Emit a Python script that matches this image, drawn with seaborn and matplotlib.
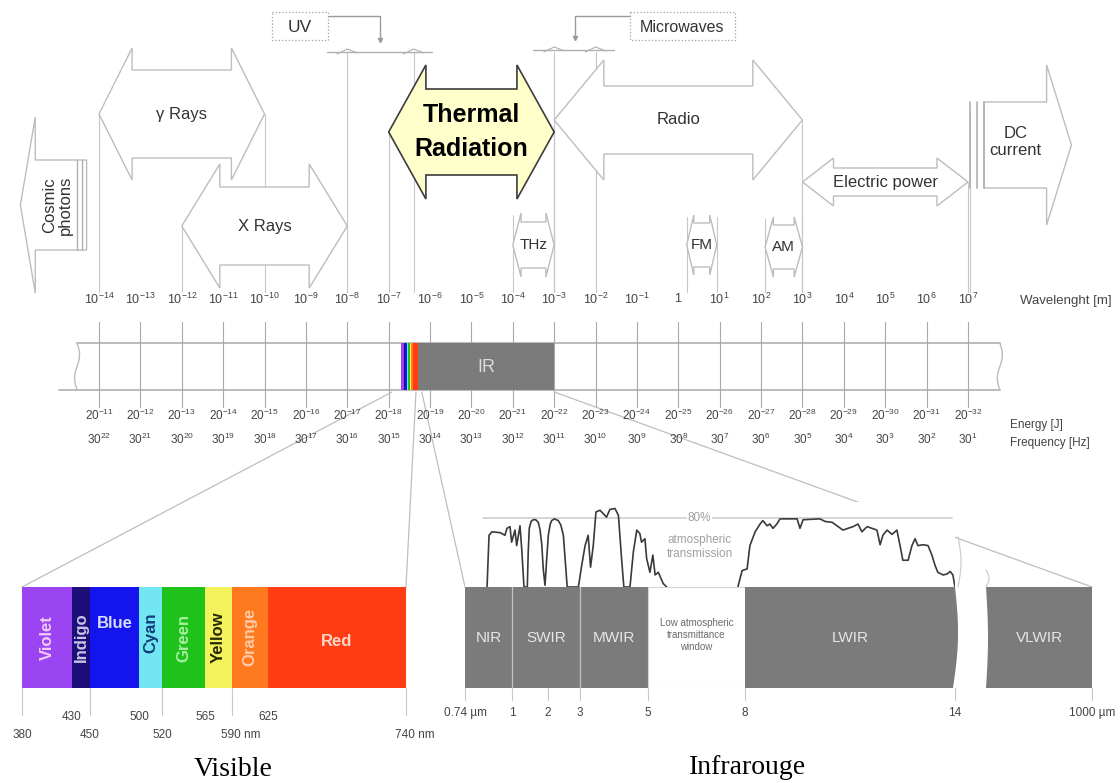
import numpy as np
import pandas as pd
import matplotlib
matplotlib.use("Agg")
import matplotlib.pyplot as plt
import seaborn as sns
from matplotlib.patches import Polygon, Rectangle, ConnectionPatch

# ---------------- data ----------------
# wavelength decades on the main scale (metres), energy (J) and frequency (Hz) exponents
wl_exp = list(range(-14, 8))
energy_exp = list(range(-11, -33, -1))
freq_exp = list(range(22, 0, -1))

# regions of the spectrum (metres)
band_names = ['γ Rays', 'X Rays', 'Radio', 'Thermal\nRadiation', 'Electric power', 'THz', 'FM', 'AM']
band_lo = [1e-14, 1e-12, 1e-3, 1e-7, 1e3, 1e-4, 1.6, 125]
band_hi = [1e-10, 1e-8, 1e3, 1e-3, 1e7, 1e-3, 8.5, 1000]
cosmic_range = (10 ** -15.9, 10 ** -14.3)
dc_range = (10 ** 7.05, 10 ** 9.5)
uv_range = (1e-8, 4e-7)
micro_range = (1e-3, 1e-2)

# visible detail (nm)
vis_names = ['Violet', 'Indigo', 'Blue', 'Cyan', 'Green', 'Yellow', 'Orange', 'Red']
vis_edges = [380, 430, 450, 500, 520, 565, 590, 625, 740]
vis_ticks_top = [430, 500, 565, 625]
vis_ticks_bottom = [380, 450, 520, 590, 740]
vis_tick_labels_bottom = ['380', '450', '520', '590 nm', '740 nm']

# infrared detail (um)
ir_names = ['NIR', 'SWIR', 'MWIR', 'Low atmospheric\ntransmittance\nwindow', 'LWIR', 'VLWIR']
ir_edges = [0.74, 1, 3, 5, 8, 14, 1000]
ir_ticks = [0.74, 1, 2, 3, 5, 8, 14, 1000]
ir_tick_labels = ['0.74 µm', '1', '2', '3', '5', '8', '14', '1000 µm']

# atmospheric transmission (%)
atm1_um = [0.862, 0.873, 0.889, 0.934, 0.961, 0.972, 0.989, 0.998, 1.083, 1.13, 1.222, 1.27, 1.333,
           1.425, 1.45, 1.48, 1.53, 1.59, 1.66, 1.73, 1.78, 1.825, 1.87, 1.917,
           1.96, 2.01, 2.07, 2.115, 2.2, 2.32, 2.4, 2.48, 2.54, 2.6,
           2.95, 3.05, 3.15, 3.24, 3.31, 3.39, 3.47, 3.59, 3.78, 3.88, 4.03, 4.13, 4.23, 4.29,
           4.47, 4.57, 4.67, 4.76, 4.81, 4.91, 4.96, 5.06, 5.15, 5.22, 5.32, 5.47, 5.58]
atm1_pct = [0, 60, 64, 63, 60, 68, 70, 52, 66, 48, 71, 44, 0,
            0, 40, 68, 76, 78, 78, 75, 66, 50, 20, 2,
            30, 60, 73, 77, 79, 77, 72, 60, 30, 0,
            0, 25, 48, 60, 23, 48, 87, 89, 81, 90, 91, 83, 29, 0,
            0, 41, 66, 62, 52, 56, 33, 17, 37, 14, 17, 4, 0]
atm2_um = [7.78, 7.91, 8.06, 8.14, 8.29, 8.43, 8.51, 8.63, 8.71, 8.8, 8.91, 9.0, 9.49, 9.57, 9.66,
           10.14, 10.29, 10.49, 10.66, 10.8, 10.94, 11.09, 11.23, 11.34, 11.49, 11.63, 11.77, 11.86,
           11.94, 12.06, 12.2, 12.34, 12.43, 12.51, 12.66, 12.77, 12.86, 12.94, 13.09, 13.23, 13.34,
           13.43, 13.51, 13.66, 13.77, 13.86, 13.94, 14.0]
atm2_pct = [0, 19, 21, 48, 64, 73, 77, 71, 73, 68, 73, 79, 79, 68, 78,
            79, 76, 75, 70, 66, 68, 70, 73, 64, 70, 68, 66, 49,
            60, 66, 61, 66, 48, 31, 31, 48, 56, 48, 49, 48, 37,
            25, 17, 14, 15, 18, 14, 0]

# ---------------- layout / style ----------------
W, H = 1120, 783
PX_DEC = 41.38                      # pixels per decade on the main scale
X_LEFT = -14 - 99 / PX_DEC
X_RIGHT = X_LEFT + W / PX_DEC

# y centre, head half-height, shaft half-height, head length (decades)
arrow_layout = {
    'γ Rays': (114, 66, 44, 0.80),
    'X Rays': (226, 62, 39, 0.92),
    'Radio': (120, 60, 34, 1.20),
    'Thermal\nRadiation': (132, 67, 43, 0.90),
    'Electric power': (182, 24, 14, 0.75),
    'THz': (245, 32, 23, 0.20),
    'FM': (245, 30, 22, 0.17),
    'AM': (247, 30, 22, 0.20),
}
BAR_TOP, BAR_BOT = 343, 390
STRIP = (-6.69, -6.28)              # exaggerated visible strip on the main bar (decades)

vis_colors = ['#9B45F2', '#1E0E7A', '#1414EE', '#72E6F2', '#1FC21B', '#F4F25C', '#FF7A1E', '#FF3C12']
vis_text_colors = ['#F2CCF8', '#C9C6E6', '#D6DBFF', '#123C78', '#A6F0A0', '#262600', '#FFCBA8', '#FFD6C8']
vis_rot = [90, 90, 0, 90, 90, 90, 90, 0]
vis_text_y = [0.5, 0.5, 0.64, 0.55, 0.5, 0.5, 0.51, 0.46]
vis_pos = [0, 50, 68, 117, 140, 183, 210, 246, 384]      # not to scale, as drawn
ir_pos = [0, 47, 83, 115, 183, 280, 490, 627]
IR_GRAY = '#7B7B7B'
EDGE = '#BDBDBD'
TXT = '#333333'

sns.set_theme(style='white')
plt.rcParams['font.family'] = ['Liberation Sans', 'DejaVu Sans']
plt.rcParams['mathtext.fontset'] = 'custom'
plt.rcParams['mathtext.rm'] = 'Liberation Sans'
plt.rcParams['mathtext.it'] = 'Liberation Sans:italic'


def vis_fwd(x):
    return np.interp(x, vis_edges, vis_pos)


def vis_inv(x):
    return np.interp(x, vis_pos, vis_edges)


def ir_fwd(x):
    return np.interp(x, ir_ticks, ir_pos)


def ir_inv(x):
    return np.interp(x, ir_pos, ir_ticks)


def arrow_poly(a, b, yc, hh, sh, hl, kind='double'):
    if kind == 'double':
        xs = [a, a + hl, a + hl, b - hl, b - hl, b, b - hl, b - hl, a + hl, a + hl]
        ys = [yc, yc - hh, yc - sh, yc - sh, yc - hh, yc, yc + hh, yc + sh, yc + sh, yc + hh]
    elif kind == 'left':
        xs = [a, a + hl, a + hl, b, b, a + hl, a + hl]
        ys = [yc, yc - hh, yc - sh, yc - sh, yc + sh, yc + sh, yc + hh]
    else:
        xs = [a, b - hl, b - hl, b, b - hl, b - hl, a]
        ys = [yc - sh, yc - sh, yc - hh, yc, yc + hh, yc + sh, yc + sh]
    return np.column_stack([10.0 ** np.array(xs), ys])


fig = plt.figure(figsize=(W / 100, H / 100), dpi=100)

# ---------------- main spectrum ----------------
ax = fig.add_axes([0, 0, 1, 1])
ax.set_xscale('log')
ax.set_xlim(10 ** X_LEFT, 10 ** X_RIGHT)
ax.set_ylim(H, 0)
ax.axis('off')

# guide lines from the arrows down to the scale
guides = []
for name, lo, hi in zip(band_names, band_lo, band_hi):
    yc = arrow_layout[name][0]
    top = yc - arrow_layout[name][1] + 2 if name in ('THz', 'FM', 'AM') else yc
    guides += [(lo, top), (hi, top)]
guides += [(uv_range[0], 52), (uv_range[1], 52), (micro_range[0], 52), (micro_range[1], 52),
           (dc_range[0], 111)]
for x, top in guides:
    ax.plot([x, x], [top, 292], color='#C8C8C8', lw=0.8, zorder=1)

# brackets and call-out boxes for UV and microwaves
for rng, yb, box, lab, fs in [(uv_range, 52, (-9.82, -8.47), 'UV', 12.5),
                              (micro_range, 50, (-1.17, 1.37), 'Microwaves', 11.5)]:
    lo, hi = np.log10(rng)
    ax.plot([10 ** (lo - 0.5), 10 ** (hi + 0.45)], [yb, yb], color='#B0B0B0', lw=1, zorder=1)
    for x in (lo, hi):
        ax.plot([10 ** (x - 0.25), 10 ** x, 10 ** (x + 0.25)], [yb + 2, yb - 3, yb + 1],
                color='#B0B0B0', lw=0.8, zorder=1)
    mid = 10 ** ((lo + hi) / 2)
    bx = box[1] if box[1] < np.log10(mid) else box[0]
    ax.plot([10 ** bx, mid, mid], [16, 16, yb - 12], color='#9A9A9A', lw=1, zorder=1)
    ax.plot([mid], [yb - 12], marker='v', ms=3, color='#9A9A9A', zorder=1)
    ax.add_patch(Rectangle((10 ** box[0], 12), 10 ** box[1] - 10 ** box[0], 28, fc='white',
                           ec='#A0A0A0', lw=0.9, ls=':', zorder=2))
    ax.text(10 ** ((box[0] + box[1]) / 2), 27, lab, ha='center', va='center', fontsize=fs,
            color=TXT, zorder=3)

# band arrows
draw_order = ['γ Rays', 'X Rays', 'Radio', 'Thermal\nRadiation', 'Electric power', 'THz', 'FM', 'AM']
for name in draw_order:
    i = band_names.index(name)
    a, b = np.log10(band_lo[i]), np.log10(band_hi[i])
    yc, hh, sh, hl = arrow_layout[name]
    thermal = name.startswith('Thermal')
    ax.add_patch(Polygon(arrow_poly(a, b, yc, hh, sh, hl), closed=True,
                         fc='#FFFFCC' if thermal else 'white',
                         ec='#3C3C3C' if thermal else EDGE, lw=1.2 if thermal else 1.0, zorder=2))
    small = name in ('THz', 'FM', 'AM')
    ax.text(10 ** ((a + b) / 2), yc, name, ha='center', va='center', zorder=3, color='black' if thermal else TXT,
            fontsize=18 if thermal else (11 if small else 12), fontweight='bold' if thermal else 'normal',
            linespacing=1.55)

# cosmic photons (left arrow, cut shaft)
a, b = np.log10(cosmic_range)
ax.add_patch(Polygon(arrow_poly(a, b, 205, 88, 45, 0.36, 'left'), closed=True, fc='white', ec=EDGE,
                     lw=1.0, zorder=2))
for dx in (-0.22, -0.1):
    ax.plot([10 ** (b + dx)] * 2, [160, 250], color='#B0B0B0', lw=1, zorder=3)
ax.text(10 ** ((a + 0.36 + b) / 2 - 0.08), 205, 'Cosmic\nphotons', rotation=90, ha='center', va='center',
        fontsize=12, color=TXT, linespacing=1.0, zorder=3)

# DC current (right arrow, cut shaft)
a, b = np.log10(dc_range)
ax.add_patch(Polygon(arrow_poly(a + 0.34, b, 145, 80, 43, 0.6, 'right'), closed=True, fc='white', ec=EDGE,
                     lw=1.0, zorder=2))
for dx in (0.0, 0.17, 0.34):
    ax.plot([10 ** (a + dx)] * 2, [102, 188], color='#B0B0B0', lw=1.2, zorder=3)
ax.text(10 ** ((a + 0.34 + b - 0.6) / 2), 142, 'DC\ncurrent', ha='center', va='center', fontsize=12,
        color=TXT, linespacing=1.2, zorder=3)

# spectrum bar
bar_l, bar_r = -14.53, 7.77
ax.plot([10 ** bar_l, 10 ** bar_r], [BAR_TOP, BAR_TOP], color='#BBBBBB', lw=1.4, zorder=1)
ax.plot([10 ** (bar_l - 0.43), 10 ** bar_r], [BAR_BOT, BAR_BOT], color='#BBBBBB', lw=1.4, zorder=1)
t = np.linspace(0, 1, 40)
yy = BAR_TOP + t * (BAR_BOT - BAR_TOP)
for x0 in (bar_l, bar_r):
    ax.plot(10 ** (x0 + 0.06 * np.sin(2 * np.pi * t)), yy, color='#BBBBBB', lw=1.0, zorder=1)
for e in wl_exp:
    ax.plot([10.0 ** e] * 2, [322, 407], color='#A8A8A8', lw=0.8, zorder=1)

# visible strip and IR block on the bar
strip_frac = (np.array(vis_edges) - vis_edges[0]) / (vis_edges[-1] - vis_edges[0])
strip_x = STRIP[0] + strip_frac * (STRIP[1] - STRIP[0])
for x0, x1, c in zip(strip_x[:-1], strip_x[1:], vis_colors):
    ax.add_patch(Rectangle((10 ** x0, BAR_TOP), 10 ** x1 - 10 ** x0, BAR_BOT - BAR_TOP, fc=c, ec='none',
                           zorder=2))
ax.add_patch(Rectangle((10 ** STRIP[1], BAR_TOP), 1e-3 - 10 ** STRIP[1], BAR_BOT - BAR_TOP, fc=IR_GRAY,
                       ec='none', zorder=2))
ax.text(10 ** ((STRIP[1] - 3) / 2), 367, 'IR', ha='center', va='center', fontsize=13, color='#DADADA', zorder=3)

# scale labels
for e, ee, fe in zip(wl_exp, energy_exp, freq_exp):
    x = 10.0 ** e
    wl_lab = '$1$' if e == 0 else rf'$10^{{{e}}}$'
    ax.text(x, 299, wl_lab, ha='center', va='center', fontsize=9, color='#444444', zorder=3)
    ax.text(x, 415, rf'$20^{{{ee}}}$', ha='center', va='center', fontsize=8.5, color='#444444', zorder=3)
    ax.text(x, 439, rf'$30^{{{fe}}}$', ha='center', va='center', fontsize=8.5, color='#444444', zorder=3)
ax.text(10 ** 8.26, 301, 'Wavelenght [m]', ha='left', va='center', fontsize=9.5, color='#444444')
ax.text(10 ** 8.02, 425, 'Energy [J]', ha='left', va='center', fontsize=8.5, color='#444444')
ax.text(10 ** 8.02, 443, 'Frequency [Hz]', ha='left', va='center', fontsize=8.5, color='#444444')

# ---------------- visible detail ----------------
ax_vis = fig.add_axes([22 / W, (H - 688) / H, 384 / W, 101 / H])
ax_vis.set_xscale('function', functions=(vis_fwd, vis_inv))
ax_vis.set_xlim(vis_edges[0], vis_edges[-1])
ax_vis.set_ylim(0, 1)
ax_vis.axis('off')
for i, name in enumerate(vis_names):
    lo, hi = vis_edges[i], vis_edges[i + 1]
    ax_vis.add_patch(Rectangle((lo, 0), hi - lo, 1, fc=vis_colors[i], ec='none'))
    xc = vis_inv((vis_fwd(lo) + vis_fwd(hi)) / 2)
    ax_vis.text(xc, vis_text_y[i], name, rotation=vis_rot[i], ha='center', va='center', fontsize=12,
                fontweight='bold', color=vis_text_colors[i])
for v in vis_ticks_bottom:
    ax_vis.plot([v, v], [0, -0.27], color='#C8C8C8', lw=0.8, clip_on=False)
for v in vis_ticks_top:
    ax_vis.text(v, -0.29, str(v), ha='center', va='center', fontsize=8.5, color='#444444')
for v, lab in zip(vis_ticks_bottom, vis_tick_labels_bottom):
    off = 0.5 * (len(lab) - 3) if 'nm' in lab else 0
    ax_vis.annotate(lab, (v, -0.47), xycoords='data', xytext=(off * 4.2, 0), textcoords='offset points',
                    ha='center', va='center', fontsize=8.5, color='#444444', annotation_clip=False)
ax_vis.text(0.55, -0.81, 'Visible', transform=ax_vis.transAxes, ha='center', va='center', fontsize=20,
            family='Liberation Serif', color='black')

# ---------------- infrared detail ----------------
ax_ir = fig.add_axes([465 / W, (H - 688) / H, 627 / W, 101 / H])
ax_ir.set_xscale('function', functions=(ir_fwd, ir_inv))
ax_ir.set_xlim(ir_ticks[0], ir_ticks[-1])
ax_ir.set_ylim(0, 1)
ax_ir.axis('off')
yy = np.linspace(0, 1, 30)
for i, name in enumerate(ir_names):
    lo, hi = ir_edges[i], ir_edges[i + 1]
    window = name.startswith('Low')
    if name == 'LWIR':
        xr = ir_inv(ir_fwd(hi) + 4 * np.sin(np.pi * yy) - 2 * (1 - yy))
        poly = np.column_stack([np.r_[lo, xr, lo], np.r_[0, yy, 1]])
        ax_ir.add_patch(Polygon(poly, closed=True, fc=IR_GRAY, ec='none'))
    elif name == 'VLWIR':
        xl = ir_inv(ir_fwd(lo) + 31 + 2 * np.sin(np.pi * yy))
        poly = np.column_stack([np.r_[xl, hi, hi], np.r_[yy, 1, 0]])
        ax_ir.add_patch(Polygon(poly, closed=True, fc=IR_GRAY, ec='none'))
        lo = xl[15]
    else:
        ax_ir.add_patch(Rectangle((lo, 0), hi - lo, 1, fc='white' if window else IR_GRAY,
                                  ec='#D4D4D4' if window else 'none', lw=0.8))
    xc = ir_inv((ir_fwd(lo) + ir_fwd(hi)) / 2)
    ax_ir.text(xc, 0.52 if window else 0.5, name, ha='center', va='center',
               fontsize=7 if window else 11, color='#6A6A6A' if window else '#E6E6E6',
               linespacing=1.25)
for x in (1, 3):
    ax_ir.plot([x, x], [0, 1], color='#C4C4C4', lw=0.9)
for x, lab in zip(ir_ticks, ir_tick_labels):
    ax_ir.plot([x, x], [0, -0.12], color='#C8C8C8', lw=0.8, clip_on=False)
    ax_ir.text(x, -0.25, lab, ha='center', va='center', fontsize=8.5, color='#444444')
for d, h in ((493, 0.5), (521, 0.17)):
    ys = np.linspace(1, 1 + h, 20)
    ax_ir.plot(ir_inv(d + 3 * np.sin(np.pi * (ys - 1) / h)), ys, color='#CFCFCF', lw=0.9, clip_on=False)
ax_ir.text(0.45, -0.79, 'Infrarouge', transform=ax_ir.transAxes, ha='center', va='center', fontsize=20,
           family='Liberation Serif', color='black')

# atmospheric transmission above the IR bands
ax_atm = fig.add_axes([465 / W, (H - 587) / H, 490 / W, 85 / H])
ax_atm.set_xscale('function', functions=(ir_fwd, ir_inv))
ax_atm.set_xlim(ir_ticks[0], 14)
ax_atm.set_ylim(0, 85 / 0.8625)
ax_atm.axis('off')
ax_atm.add_patch(Rectangle((0, 0), 1, 1, transform=ax_atm.transAxes, fc='white', ec='none', zorder=0))
ax_atm.plot([0.84, 13.9], [80, 80], color='#D2D2D2', lw=1.3, zorder=1)
atm = pd.DataFrame({
    'um': atm1_um + atm2_um,
    'pct': atm1_pct + atm2_pct,
    'part': ['a'] * len(atm1_um) + ['b'] * len(atm2_um),
})
sns.lineplot(data=atm, x='um', y='pct', units='part', estimator=None, sort=False, color='#3A3A3A',
             lw=1.2, ax=ax_atm, legend=False, zorder=2)
ax_atm.axis('off')
ax_atm.text(6.6, 80, '80%', ha='center', va='center', fontsize=8.5, color='#A0A0A0', zorder=3,
            bbox=dict(fc='white', ec='none', pad=0.5))
ax_atm.text(6.6, 46, 'atmospheric\ntransmission', ha='center', va='center', fontsize=8.5, color='#A0A0A0',
            linespacing=1.2, zorder=3)

# zoom lines from the main bar to the detail panels
for xa, xb, axb in [(10 ** -6.92, vis_edges[0], ax_vis), (10 ** -6.34, vis_edges[-1], ax_vis),
                    (10 ** -6.2, ir_ticks[0], ax_ir), (1e-3, ir_ticks[-1], ax_ir)]:
    con = ConnectionPatch(xyA=(xa, BAR_BOT + 2), coordsA=ax.transData, xyB=(xb, 1), coordsB=axb.transData,
                          color='#BEBEBE', lw=0.9)
    ax.add_artist(con)

fig.savefig('out.png', dpi=100, facecolor='white')
